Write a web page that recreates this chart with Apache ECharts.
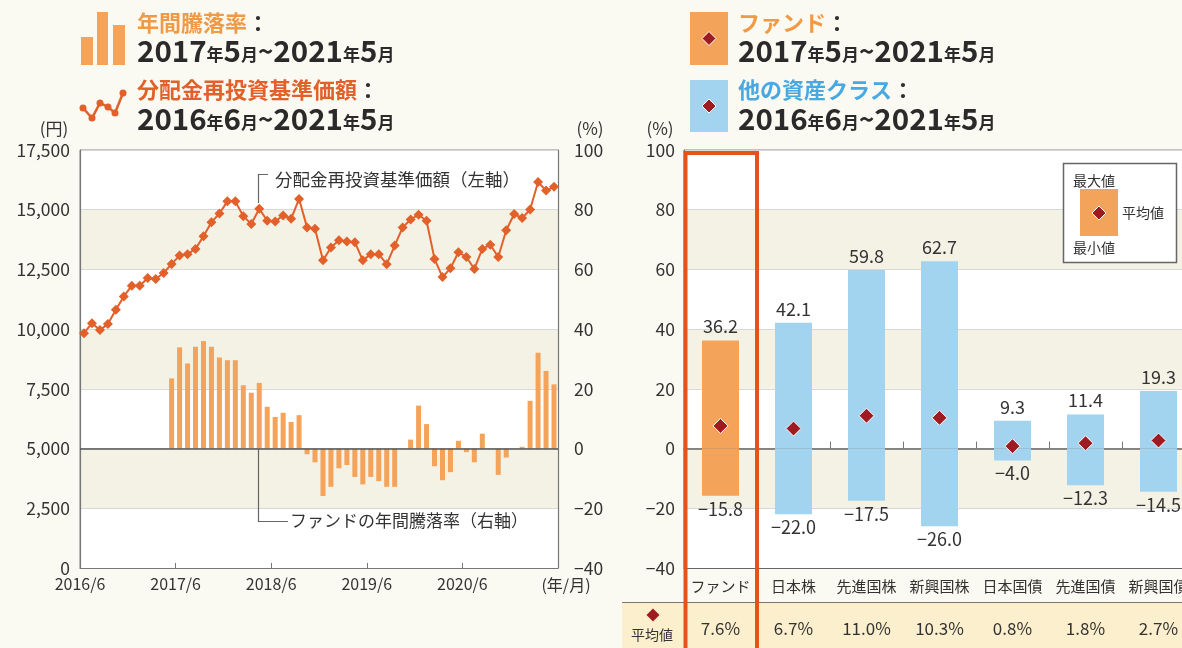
<!DOCTYPE html>
<html><head><meta charset="utf-8">
<script src="https://cdn.jsdelivr.net/npm/echarts@6/dist/echarts.min.js"></script>
<style>html,body{margin:0;padding:0;overflow:hidden;background:#faf9f2;}#c{width:1200px;height:648px;}</style>
</head><body><div id="c"></div>
<script>
// ---------- Data ----------
// Left chart: monthly NAV (分配金再投資基準価額), 2016/6 .. 2021/5 (60 months)
const navValues = [
  9830,10250,9960,10220,10810,11370,11820,11820,12140,12100,
  12350,12730,13080,13140,13360,13890,14480,14840,15350,15350,
  14730,14400,15040,14540,14510,14760,14620,15450,14260,14200,
  12880,13420,13720,13670,13640,12880,13140,13140,12720,13500,
  14260,14590,14790,14540,12940,12180,12550,13220,13020,12520,
  13360,13530,13020,14140,14820,14650,15010,16160,15800,15960
];
// Annual return (年間騰落率), 2017/5 .. 2021/5 (49 months); first month index 11
const returnStartIndex = 11;
const annualReturns = [
  23.5,33.9,28.5,34.1,36.0,34.1,30.5,29.6,29.6,21.2,
  18.7,22.0,14.0,10.6,12.0,8.9,11.2,-1.9,-4.6,-15.9,
  -12.8,-6.6,-5.5,-9.5,-12.0,-9.5,-10.9,-12.8,-12.8,0,
  3.0,14.4,8.2,-5.9,-10.6,-7.9,2.6,-1.2,-4.6,5.0,
  0,-8.8,-3.0,0,0.6,16.0,32.1,26.0,21.5
];
const xTickLabels = ['2016/6','2017/6','2018/6','2019/6','2020/6',''];
// Right chart
const categories = ['ファンド','日本株','先進国株','新興国株','日本国債','先進国債','新興国債'];
const maxVals = [36.2,42.1,59.8,62.7,9.3,11.4,19.3];
const minVals = [-15.8,-22.0,-17.5,-26.0,-4.0,-12.3,-14.5];
const avgVals = [7.6,6.7,11.0,10.3,0.8,1.8,2.7];

// ---------- Styles ----------
const FONT = '"Noto Sans CJK JP", "Noto Sans", sans-serif';
const TXT = '#333333';
const BEIGE = '#f3f2e5';
const ORANGE_BAR = '#f4a35a';
const ORANGE_LINE = '#e2602a';
const BLUE_BAR = '#a2d4f0';
const DIAMOND = '#9e1b22';
const minus = v => v < 0 ? '\u2212' + Math.abs(v) : String(v);

function dateRich(s){
  return s.replace(/(\d+)|([年月])|(～)/g, (m,d,k,t)=> d ? '{d|'+d+'}' : k ? '{s|'+k+'}' : '{t|~}');
}
const dateStyle = {
  d:{fontSize:29.5,fontWeight:'bold',fill:'#2a2a2a',fontFamily:FONT},
  s:{fontSize:17,fontWeight:'bold',fill:'#2a2a2a',fontFamily:FONT,padding:[7,0,0,0]},
  t:{fontSize:26,fontWeight:'bold',fill:'#2a2a2a',fontFamily:FONT}
};
const titleRich = c => ({o:{fill:c,fontSize:22,fontWeight:'bold',fontFamily:FONT},c:{fill:'#333',fontSize:22,fontWeight:'bold',fontFamily:FONT}});
function diamondPts(cx,cy,r){return [[cx,cy-r],[cx+r,cy],[cx,cy+r],[cx-r,cy]];}

const chart = echarts.init(document.getElementById('c'), null, {renderer:'canvas'});

const navData = navValues.map((v,i)=>[i+0.5, v]);
const retData = annualReturns.map((v,k)=>[k+returnStartIndex+0.5, v]);
const catColors = categories.map((c,i)=> i===0 ? ORANGE_BAR : BLUE_BAR);

const iconPts = [[83,108],[92,118],[100,103],[108,107],[115,113],[123,93]];

const graphics = [
  // bottom average row (behind axes)
  {type:'rect',z:-10,shape:{x:622,y:603,width:600,height:50},style:{fill:'#fcefcd'}},
  {type:'line',z:-9,shape:{x1:622,y1:602.5,x2:1200,y2:602.5},style:{stroke:'#777',lineWidth:1.2}},
  // Left legend
  {type:'rect',shape:{x:81,y:37,width:12,height:28},style:{fill:ORANGE_BAR}},
  {type:'rect',shape:{x:97,y:12,width:11,height:53},style:{fill:ORANGE_BAR}},
  {type:'rect',shape:{x:113,y:25,width:12,height:40},style:{fill:ORANGE_BAR}},
  {type:'text',x:137,y:23,style:{text:'{o|年間騰落率}{c|：}',rich:titleRich('#f19a45'),verticalAlign:'middle'}},
  {type:'text',x:137,y:51,style:{text:dateRich('2017年5月～2021年5月'),rich:dateStyle,verticalAlign:'middle'}},
  {type:'polyline',shape:{points:iconPts},style:{stroke:ORANGE_LINE,lineWidth:2.5,fill:null}},
  ...iconPts.map(p=>({type:'circle',shape:{cx:p[0],cy:p[1],r:3.5},style:{fill:ORANGE_LINE}})),
  {type:'text',x:137,y:90,style:{text:'{o|分配金再投資基準価額}{c|：}',rich:titleRich(ORANGE_LINE),verticalAlign:'middle'}},
  {type:'text',x:137,y:119,style:{text:dateRich('2016年6月～2021年5月'),rich:dateStyle,verticalAlign:'middle'}},
  // Right legend
  {type:'rect',shape:{x:690,y:12,width:38,height:53},style:{fill:ORANGE_BAR}},
  {type:'polygon',shape:{points:diamondPts(709,38.5,7)},style:{fill:DIAMOND,stroke:'#fff',lineWidth:1}},
  {type:'rect',shape:{x:690,y:80,width:38,height:52},style:{fill:BLUE_BAR}},
  {type:'polygon',shape:{points:diamondPts(709,106,7)},style:{fill:DIAMOND,stroke:'#fff',lineWidth:1}},
  {type:'text',x:738,y:23,style:{text:'{o|ファンド}{c|：}',rich:titleRich('#f19a45'),verticalAlign:'middle'}},
  {type:'text',x:738,y:51,style:{text:dateRich('2017年5月～2021年5月'),rich:dateStyle,verticalAlign:'middle'}},
  {type:'text',x:738,y:90,style:{text:'{o|他の資産クラス}{c|：}',rich:titleRich('#4aa8e0'),verticalAlign:'middle'}},
  {type:'text',x:738,y:119,style:{text:dateRich('2016年6月～2021年5月'),rich:dateStyle,verticalAlign:'middle'}},
  // axis unit labels
  {type:'text',x:54,y:129,style:{text:'(円)',fontSize:17,fill:TXT,fontFamily:FONT,align:'center',verticalAlign:'middle'}},
  {type:'text',x:590,y:129,style:{text:'(%)',fontSize:17,fill:TXT,fontFamily:FONT,align:'center',verticalAlign:'middle'}},
  {type:'text',x:660,y:129,style:{text:'(%)',fontSize:17,fill:TXT,fontFamily:FONT,align:'center',verticalAlign:'middle'}},
  {type:'text',x:566,y:585,style:{text:'(年/月)',fontSize:16,fill:TXT,fontFamily:FONT,align:'center',verticalAlign:'middle'}},
  // annotations left
  {type:'polyline',z:50,shape:{points:[[258.5,203],[258.5,174.5],[268,174.5]]},style:{stroke:'#666',lineWidth:1.2,fill:null}},
  {type:'text',z:50,x:275,y:179,style:{text:'分配金再投資基準価額（左軸）',fontSize:17.5,fill:TXT,fontFamily:FONT,verticalAlign:'middle'}},
  {type:'polyline',z:50,shape:{points:[[258.5,449],[258.5,521.5],[288,521.5]]},style:{stroke:'#666',lineWidth:1.2,fill:null}},
  {type:'text',z:50,x:290,y:521,style:{text:'ファンドの年間騰落率（右軸）',fontSize:17,fill:TXT,fontFamily:FONT,verticalAlign:'middle'}},
  // bottom row label
  {type:'polygon',z:3,shape:{points:diamondPts(653,615,6.5)},style:{fill:DIAMOND}},
  {type:'text',z:3,x:652,y:635,style:{text:'平均値',fontSize:14,fill:TXT,fontFamily:FONT,align:'center',verticalAlign:'middle'}},
  // right chart legend box
  {type:'rect',z:40,shape:{x:1063.5,y:163.5,width:113,height:99},style:{fill:'#fff',stroke:'#666',lineWidth:1.5}},
  {type:'text',z:41,x:1073,y:181,style:{text:'最大値',fontSize:14,fill:TXT,fontFamily:FONT,verticalAlign:'middle'}},
  {type:'rect',z:41,shape:{x:1080,y:189,width:38,height:47},style:{fill:ORANGE_BAR}},
  {type:'polygon',z:42,shape:{points:diamondPts(1099,213,7)},style:{fill:DIAMOND,stroke:'#fff',lineWidth:1}},
  {type:'text',z:41,x:1122,y:213,style:{text:'平均値',fontSize:14,fill:TXT,fontFamily:FONT,verticalAlign:'middle'}},
  {type:'text',z:41,x:1073,y:248,style:{text:'最小値',fontSize:14,fill:TXT,fontFamily:FONT,verticalAlign:'middle'}},
  // red highlight box
  {type:'rect',z:60,shape:{x:685.5,y:153,width:71.5,height:600},style:{fill:null,stroke:'#e8501c',lineWidth:4}}
];

const axisLabelBase = {color:TXT,fontFamily:FONT};

const option = {
  backgroundColor:'#faf9f2',
  animation:false,
  textStyle:{fontFamily:FONT},
  grid:[
    {left:80,top:150,width:478,height:418,show:true,borderColor:'#8a8a8a',borderWidth:1,backgroundColor:'#fff'},
    {left:684,top:150,width:511,height:418,show:true,borderColor:'#8a8a8a',borderWidth:1,backgroundColor:'#fff'}
  ],
  xAxis:[
    {type:'value',gridIndex:0,min:0,max:60,interval:12,position:'bottom',
     axisLine:{show:true,onZero:false,lineStyle:{color:'#777',width:1.2}},
     axisTick:{show:true,inside:true,length:5,lineStyle:{color:'#777'}},
     axisLabel:{...axisLabelBase,fontSize:16,margin:8,formatter:v=>xTickLabels[Math.round(v/12)]||''},
     splitLine:{show:false}},
    {type:'category',gridIndex:1,data:categories,position:'bottom',
     axisLine:{show:true,onZero:false,lineStyle:{color:'#666',width:1.2}},
     axisTick:{show:false},
     axisLabel:{...axisLabelBase,fontSize:15,margin:11,interval:0}},
    {type:'category',gridIndex:1,data:categories,position:'bottom',
     axisLine:{show:true,onZero:true,lineStyle:{color:'#666',width:1.5}},
     axisTick:{show:true,inside:true,length:7,interval:0,lineStyle:{color:'#777'}},
     axisLabel:{show:false}},
    {type:'category',gridIndex:1,data:categories,position:'bottom',
     axisLine:{show:false,onZero:false},axisTick:{show:false},
     axisLabel:{...axisLabelBase,fontSize:17,margin:52,interval:0,formatter:(v,i)=>avgVals[i].toFixed(1)+'%'}}
  ],
  yAxis:[
    {type:'value',gridIndex:0,position:'left',min:0,max:17500,interval:2500,
     axisLine:{show:true,lineStyle:{color:'#777',width:1.2}},axisTick:{show:false},
     axisLabel:{...axisLabelBase,fontSize:17.5,margin:10,formatter:v=>v.toLocaleString('en-US')},
     splitLine:{show:true,lineStyle:{color:'#d8d8d8'}},
     splitArea:{show:true,areaStyle:{color:['#ffffff',BEIGE]}}},
    {type:'value',gridIndex:0,position:'right',min:-40,max:100,interval:20,
     axisLine:{show:true,lineStyle:{color:'#777',width:1.2}},axisTick:{show:false},
     axisLabel:{...axisLabelBase,fontSize:17.5,margin:16,formatter:minus},
     splitLine:{show:false}},
    {type:'value',gridIndex:1,position:'left',min:-40,max:100,interval:20,
     axisLine:{show:true,lineStyle:{color:'#777',width:1.2}},axisTick:{show:false},
     axisLabel:{...axisLabelBase,fontSize:17.5,margin:9,formatter:minus},
     splitLine:{show:true,lineStyle:{color:'#d8d8d8'}},
     splitArea:{show:true,areaStyle:{color:['#ffffff',BEIGE]}}}
  ],
  series:[
    {type:'bar',xAxisIndex:0,yAxisIndex:1,data:retData,barWidth:5,
     itemStyle:{color:ORANGE_BAR},z:2,
     markLine:{silent:true,symbol:'none',label:{show:false},data:[{yAxis:0}],
       lineStyle:{color:'#555',width:1.5,type:'solid'}}},
    {type:'line',xAxisIndex:0,yAxisIndex:0,data:navData,symbol:'diamond',symbolSize:10,
     lineStyle:{color:ORANGE_LINE,width:2},itemStyle:{color:ORANGE_LINE},z:5},
    {type:'bar',xAxisIndex:1,yAxisIndex:2,barWidth:37,barGap:'-100%',z:3,
     data:maxVals.map((v,i)=>({value:v,itemStyle:{color:catColors[i]}})),
     label:{show:true,position:'top',distance:5,fontSize:18,color:TXT,fontFamily:FONT,formatter:p=>p.value.toFixed(1)}},
    {type:'bar',xAxisIndex:1,yAxisIndex:2,barWidth:37,barGap:'-100%',z:3,
     data:minVals.map((v,i)=>({value:v,itemStyle:{color:catColors[i]}})),
     label:{show:true,position:'bottom',distance:4,fontSize:18,color:TXT,fontFamily:FONT,formatter:p=>'\u2212'+Math.abs(p.value).toFixed(1)}},
    {type:'scatter',xAxisIndex:1,yAxisIndex:2,data:avgVals,symbol:'diamond',symbolSize:15,z:6,
     itemStyle:{color:DIAMOND,borderColor:'#fff',borderWidth:1,opacity:1}}
  ],
  graphic:graphics
};
chart.setOption(option);
</script></body></html>
